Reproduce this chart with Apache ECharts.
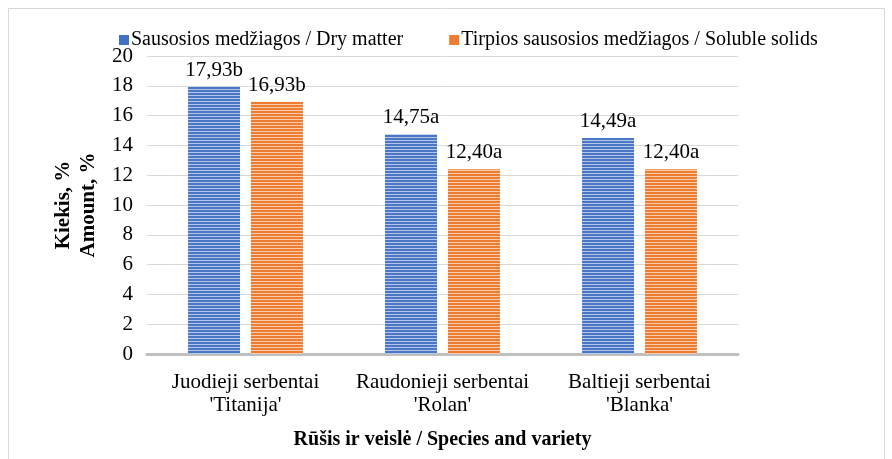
<!DOCTYPE html>
<html>
<head>
<meta charset="utf-8">
<script src="https://cdn.jsdelivr.net/npm/echarts@6/dist/echarts.min.js"></script>
<style>
  html, body { margin: 0; padding: 0; background: #fff; }
  #chart { width: 892px; height: 459px; }
</style>
</head>
<body>
<div id="chart"></div>
<script>
const categories = ["Juodieji serbentai\n'Titanija'", "Raudonieji serbentai\n'Rolan'", "Baltieji serbentai\n'Blanka'"];
const seriesNames = ["Sausosios medžiagos / Dry matter", "Tirpios sausosios medžiagos / Soluble solids"];
const dryMatter = [17.93, 14.75, 14.49];
const dryLetters = ["b", "a", "a"];
const solubleSolids = [16.93, 12.40, 12.40];
const solubleLetters = ["b", "a", "a"];

// striped fill like the original (horizontal lines)
function stripes(dark, light) {
  const c = document.createElement("canvas");
  c.width = 4;
  c.height = 3;
  const ctx = c.getContext("2d");
  ctx.fillStyle = dark;
  ctx.fillRect(0, 0, 4, 3);
  ctx.fillStyle = light;
  ctx.fillRect(0, 2, 4, 1);
  return { image: c, repeat: "repeat" };
}
const blueFill = stripes("#4a76c6", "#b4c7e7");
const orangeFill = stripes("#ed7d31", "#f8cbad");

const font = "Liberation Serif";

function labelFor(letters) {
  return {
    show: true,
    position: "top",
    distance: 6,
    fontFamily: font,
    fontSize: 21,
    color: "#000",
    formatter: function (p) {
      return p.value.toFixed(2).replace(".", ",") + letters[p.dataIndex];
    }
  };
}

const chart = echarts.init(document.getElementById("chart"));
chart.setOption({
  animation: false,
  color: ["#4472c4", "#ed7d31"],
  graphic: [{
    type: "rect",
    shape: { x: 8.5, y: 8.5, width: 876, height: 470 },
    style: { fill: "none", stroke: "#d9d9d9", lineWidth: 1 },
    silent: true
  }],
  legend: {
    top: 25,
    left: 114,
    itemWidth: 10,
    itemHeight: 10,
    itemGap: 46,
    icon: "rect",
    textStyle: { fontFamily: font, fontSize: 20, color: "#000", padding: [0, 0, 0, -3] },
    data: [
      { name: seriesNames[0], itemStyle: { color: "#4472c4" } },
      { name: seriesNames[1], itemStyle: { color: "#ed7d31" } }
    ]
  },
  grid: { left: 147, right: 154, top: 56, bottom: 105 },
  xAxis: {
    type: "category",
    data: categories,
    name: "Rūšis ir veislė / Species and variety",
    nameLocation: "middle",
    nameGap: 76,
    nameTextStyle: { fontFamily: font, fontSize: 20, fontWeight: "bold", color: "#000" },
    axisLine: { lineStyle: { color: "#bfbfbf", width: 3 } },
    axisTick: { show: false },
    axisLabel: { interval: 0, fontFamily: font, fontSize: 21, color: "#000", lineHeight: 23, margin: 17 }
  },
  yAxis: {
    type: "value",
    min: 0,
    max: 20,
    interval: 2,
    name: "Kiekis, %\nAmount, %",
    nameLocation: "middle",
    nameRotate: 90,
    nameGap: 46,
    nameTextStyle: { fontFamily: font, fontSize: 21, fontWeight: "bold", color: "#000", lineHeight: 25 },
    axisLine: { show: false },
    axisTick: { show: false },
    axisLabel: { fontFamily: font, fontSize: 21, color: "#000", margin: 14 },
    splitLine: { lineStyle: { color: "#d9d9d9", width: 1 } }
  },
  series: [
    {
      name: seriesNames[0],
      type: "bar",
      data: dryMatter,
      barWidth: 52,
      barGap: "21%",
      itemStyle: { color: blueFill },
      label: labelFor(dryLetters)
    },
    {
      name: seriesNames[1],
      type: "bar",
      data: solubleSolids,
      barWidth: 52,
      itemStyle: { color: orangeFill },
      label: labelFor(solubleLetters)
    }
  ]
});
</script>
</body>
</html>
